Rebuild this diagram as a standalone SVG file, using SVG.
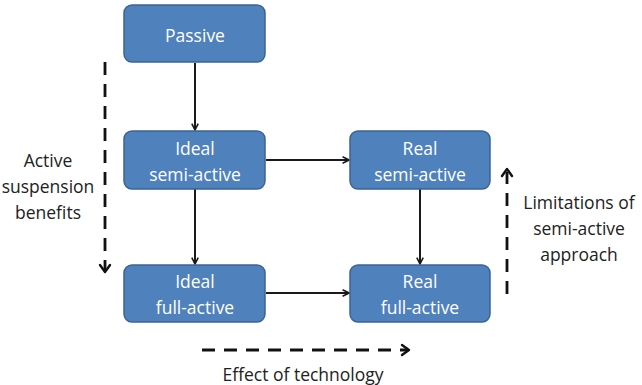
<svg xmlns="http://www.w3.org/2000/svg" width="642" height="385" viewBox="0 0 642 385">
  <style>
    .box { fill: #4F81BD; stroke: #3A6494; stroke-width: 1.5; }
    .btxt { font-family: "Open Sans", "Liberation Sans", sans-serif; font-size: 17.5px; fill: #FFFFFF; text-anchor: middle; }
    .ltxt { font-family: "Open Sans", "Liberation Sans", sans-serif; font-size: 17.5px; fill: #222222; text-anchor: middle; }
    .conn { stroke: #1A1A1A; stroke-width: 2; fill: none; marker-end: url(#head); }
    .dash { stroke: #111111; stroke-width: 2.8; fill: none; stroke-dasharray: 13 9; }
    .dhead { stroke: #111111; stroke-width: 2.4; fill: none; stroke-linecap: round; stroke-linejoin: round; }
  </style>
  <defs>
    <marker id="head" viewBox="0 0 10 10" refX="9" refY="5" markerWidth="8" markerHeight="8" markerUnits="userSpaceOnUse" orient="auto">
      <path d="M1,1 L9,5 L1,9" fill="none" stroke="#1A1A1A" stroke-width="2"/>
    </marker>
  </defs>

  <rect width="642" height="385" fill="#FFFFFF"/>

  <g id="connectors">
    <line class="conn" x1="195" y1="63" x2="195" y2="130"/>
    <line class="conn" x1="195" y1="189" x2="195" y2="264"/>
    <line class="conn" x1="266" y1="160" x2="349" y2="160"/>
    <line class="conn" x1="266" y1="293" x2="349" y2="293"/>
    <line class="conn" x1="420" y1="189" x2="420" y2="264"/>
  </g>

  <g id="passive">
    <rect class="box" x="124" y="5" width="141" height="57" rx="8"/>
    <text class="btxt" x="195" y="42">Passive</text>
  </g>
  <g id="ideal-semi-active">
    <rect class="box" x="124" y="131" width="141" height="58" rx="8"/>
    <text class="btxt" x="195" y="155">Ideal</text>
    <text class="btxt" x="195" y="181">semi-active</text>
  </g>
  <g id="real-semi-active">
    <rect class="box" x="350" y="131" width="140" height="58" rx="8"/>
    <text class="btxt" x="420" y="155">Real</text>
    <text class="btxt" x="420" y="181">semi-active</text>
  </g>
  <g id="ideal-full-active">
    <rect class="box" x="124" y="265" width="141" height="57" rx="8"/>
    <text class="btxt" x="195" y="288">Ideal</text>
    <text class="btxt" x="195" y="314">full-active</text>
  </g>
  <g id="real-full-active">
    <rect class="box" x="350" y="265" width="140" height="57" rx="8"/>
    <text class="btxt" x="420" y="288">Real</text>
    <text class="btxt" x="420" y="314">full-active</text>
  </g>

  <g id="active-suspension-benefits">
    <line class="dash" x1="105" y1="62" x2="105" y2="270"/>
    <path class="dhead" d="M100,265 L105,272 L110,265"/>
    <text class="ltxt" x="48" y="167">Active</text>
    <text class="ltxt" x="48" y="193">suspension</text>
    <text class="ltxt" x="48" y="219">benefits</text>
  </g>

  <g id="limitations">
    <line class="dash" x1="507" y1="294" x2="507" y2="172"/>
    <path class="dhead" d="M502,176 L507,169 L512,176"/>
    <text class="ltxt" x="579" y="209">Limitations of</text>
    <text class="ltxt" x="579" y="235">semi-active</text>
    <text class="ltxt" x="579" y="261">approach</text>
  </g>

  <g id="effect-of-technology">
    <line class="dash" x1="202" y1="350" x2="408" y2="350"/>
    <path class="dhead" d="M402,345 L409,350 L402,355"/>
    <text class="ltxt" x="303" y="381">Effect of technology</text>
  </g>
</svg>
